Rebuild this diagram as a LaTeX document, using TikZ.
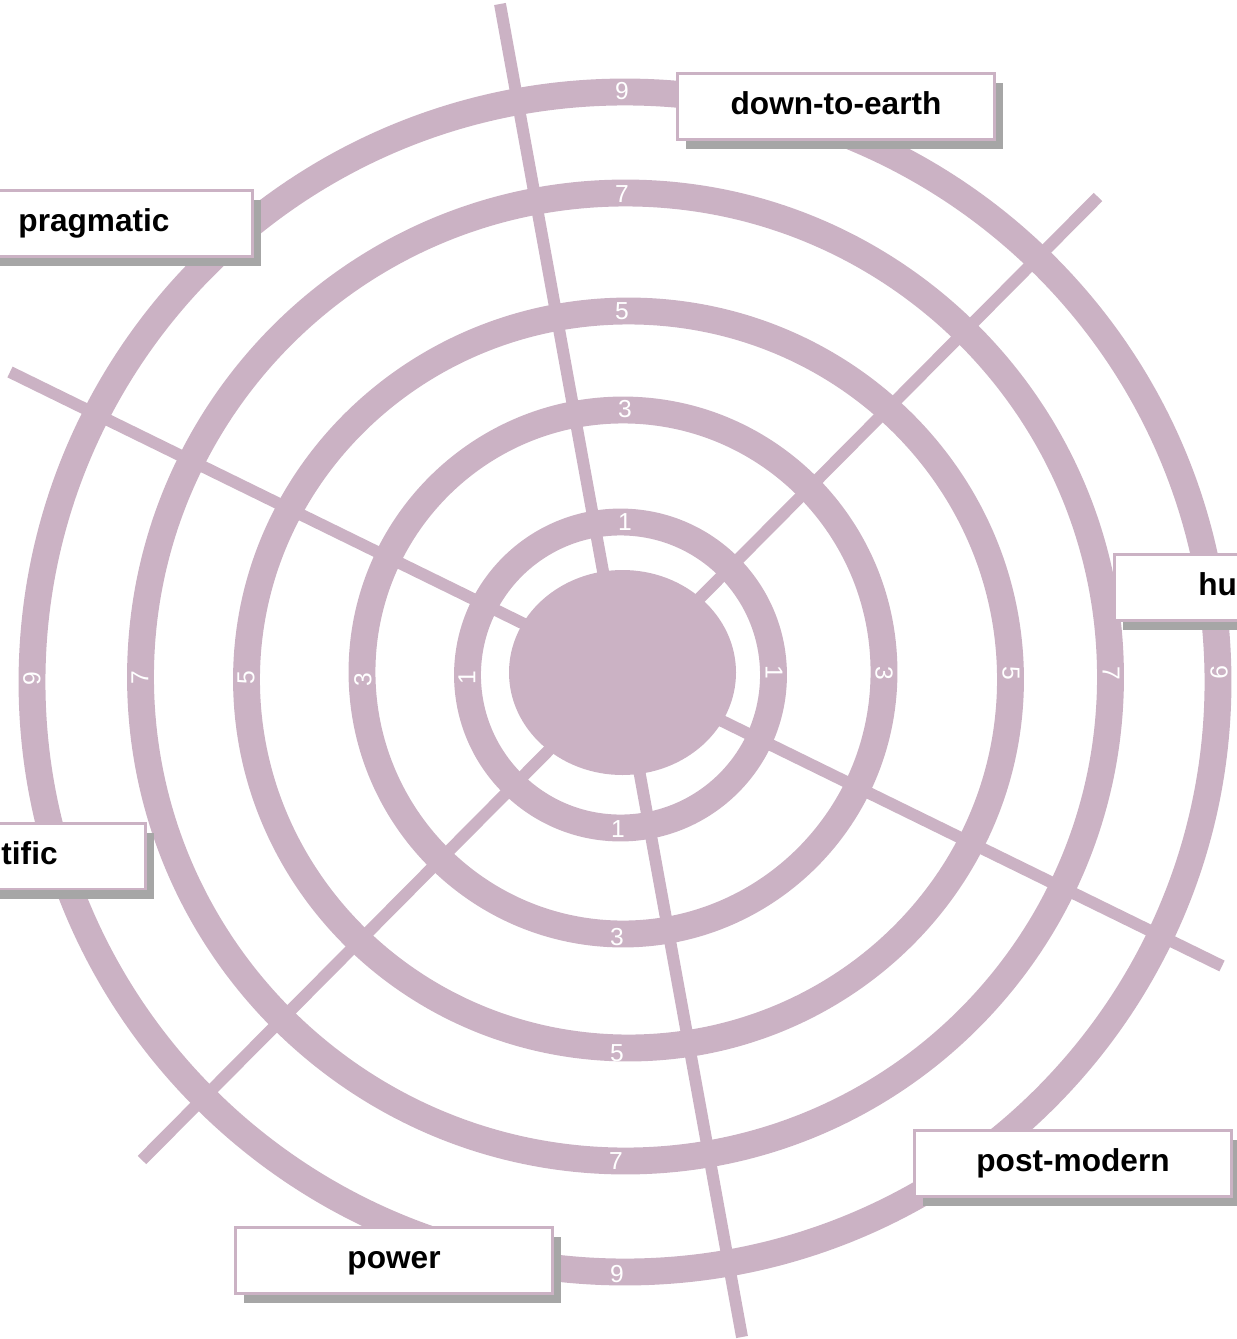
\documentclass[tikz,border=0pt]{standalone}
\usepackage{fontspec}
\setmainfont{Liberation Sans}
\usetikzlibrary{shadows}
\definecolor{ringcol}{RGB}{203,178,196}
\definecolor{shadecol}{RGB}{166,166,166}
\begin{document}
\begin{tikzpicture}[x=0.02cm,y=-0.02cm,
  ringline/.style={draw=ringcol, line width=15.3pt},
  spoke/.style={draw=ringcol, line width=6.8pt},
  num/.style={text=white, font=\fontsize{14}{14}\selectfont, inner sep=0pt},
  labelbox/.style={draw=ringcol, fill=white, line width=1.7pt,
    minimum width=6.34cm, minimum height=1.32cm, inner sep=0pt,
    drop shadow={shadow xshift=0.17cm, shadow yshift=-0.19cm, fill=shadecol, opacity=1}},
  boxtext/.style={font=\bfseries\fontsize{18}{20}\selectfont, inner sep=0pt}]
\useasboundingbox (0,0) rectangle (1237,1339);
\clip (0,0) rectangle (1237,1339);

% spokes
\coordinate (s1a) at (500,4);   \coordinate (s1b) at (742,1337);
\coordinate (s2a) at (10,372);  \coordinate (s2b) at (1222,966);
\coordinate (s3a) at (1098,197); \coordinate (s3b) at (142,1160);
\draw[spoke] (s1a) -- (s1b);
\draw[spoke] (s2a) -- (s2b);
\draw[spoke] (s3a) -- (s3b);

% rings
\draw[ringline] (620.5,675) ellipse [x radius=153, y radius=153];
\draw[ringline] (623,672) ellipse [x radius=261, y radius=262];
\draw[ringline] (628.5,679.5) ellipse [x radius=382, y radius=368.5];
\draw[ringline] (625.5,677) ellipse [x radius=485, y radius=484];
\draw[ringline] (625,682) ellipse [x radius=593, y radius=590];

% centre disk
\fill[ringcol] (622.5,672.5) ellipse [x radius=113.5, y radius=102.5];

% ring numbers: top
\node[num] (t9) at (622,91) {9};
\node[num] (t7) at (622,194) {7};
\node[num] (t5) at (622,311) {5};
\node[num] (t3) at (625,409) {3};
\node[num] (t1) at (625,522) {1};
% bottom
\node[num] (b1) at (618,829) {1};
\node[num] (b3) at (617,937) {3};
\node[num] (b5) at (617,1053) {5};
\node[num] (b7) at (616,1161) {7};
\node[num] (b9) at (617,1274) {9};
% left
\node[num, rotate=90] (l9) at (32,679) {9};
\node[num, rotate=90] (l7) at (140,678) {7};
\node[num, rotate=90] (l5) at (246,678) {5};
\node[num, rotate=90] (l3) at (363,680) {3};
\node[num, rotate=90] (l1) at (467,678) {1};
% right
\node[num, rotate=-90] (r1) at (774,672) {1};
\node[num, rotate=-90] (r3) at (884,673) {3};
\node[num, rotate=-90] (r5) at (1011,673) {5};
\node[num, rotate=-90] (r7) at (1111,673) {7};
\node[num, rotate=-90] (r9) at (1219,672) {9};

% label boxes
\node[labelbox] (bxdown) at (836,106.5) {};
\node[boxtext, anchor=base] (txdown) at ([yshift=-0.16cm]bxdown.center) {down-to-earth};

\node[labelbox] (bxprag) at (94,223.5) {};
\node[boxtext, anchor=base] (txprag) at ([yshift=-0.16cm]bxprag.center) {pragmatic};

\node[labelbox] (bxhu) at (1273,587.5) {};
\node[boxtext, anchor=base west] (txhu) at ([yshift=-0.16cm]bxhu.center -| 1198,0) {hu};

\node[labelbox] (bxsci) at (-13,856) {};
\node[boxtext, anchor=base east] (txsci) at ([yshift=-0.16cm]bxsci.center -| 58,0) {tific};

\node[labelbox] (bxpost) at (1073,1163) {};
\node[boxtext, anchor=base] (txpost) at ([yshift=-0.16cm]bxpost.center) {post-modern};

\node[labelbox] (bxpow) at (394,1260) {};
\node[boxtext, anchor=base] (txpow) at ([yshift=-0.16cm]bxpow.center) {power};
\end{tikzpicture}
\end{document}
